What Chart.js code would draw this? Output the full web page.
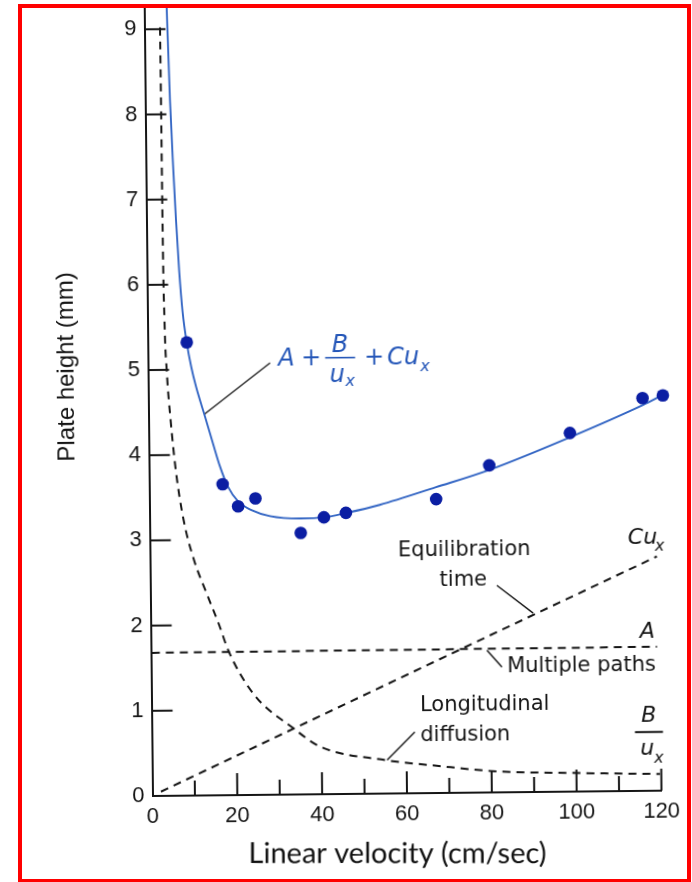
<!DOCTYPE html>
<html lang="en">
<head>
<meta charset="UTF-8">
<title>Plate height vs linear velocity</title>
<script src="https://cdn.jsdelivr.net/npm/chart.js"></script>
<style>
  html, body { margin: 0; padding: 0; background: #fff; }
  body { width: 692px; height: 882px; position: relative; overflow: hidden; }
  /* the scanned figure sits slightly tilted on the slide */
  #wrap { position: absolute; left: 0; top: 0; width: 692px; height: 882px;
          transform: rotate(-0.6deg); transform-origin: 152.5px 796px; }
  #frame { position: absolute; left: 18px; top: 4px; width: 673px; height: 879px;
           box-sizing: border-box; border: 4px solid #ff0000; pointer-events: none; }
</style>
</head>
<body>
<div id="wrap"><canvas id="chart" width="692" height="882"></canvas></div>
<div id="frame"></div>
<script>
// axis ticks
const xTickValues = [0, 20, 40, 60, 80, 100, 120];
const xMinorTickValues = [10, 30, 50, 70, 90, 110];
const yTickValues = [0, 1, 2, 3, 4, 5, 6, 7, 8, 9];

// measured points (cm/sec, mm)
const measuredVelocity = [9.2, 17.3, 20.9, 25.0, 35.6, 41.1, 46.3, 67.6, 80.2, 99.3, 116.5, 121.3];
const measuredHeight = [5.32, 3.65, 3.39, 3.48, 3.07, 3.25, 3.30, 3.45, 3.84, 4.21, 4.61, 4.64];

// A + B/u + Cu curve
const fitVelocity = [5.29, 5.84, 6.45, 6.96, 7.6, 8.29, 9.18, 10.2, 11.27, 13.3, 15.13, 16.72, 18.56, 20.88, 24.16, 28.39, 35.45, 41.1, 46.5, 54.3, 67.6, 80.1, 99.3, 116.6, 121.1];
const fitHeight = [9.25, 8.17, 7.35, 6.76, 6.15, 5.68, 5.32, 5.03, 4.8, 4.45, 4.13, 3.86, 3.62, 3.45, 3.34, 3.27, 3.24, 3.25, 3.30, 3.39, 3.59, 3.785, 4.16, 4.53, 4.64];

// B/u term (longitudinal diffusion)
const diffVelocity = [3.67, 3.72, 3.78, 4.0, 4.4, 5.2, 6.3, 8.0, 10.37, 13.23, 16.21, 18.22, 24.0, 33.4, 39.6, 54.9, 67.1, 80.3, 100.8, 119.7];
const diffHeight = [9.02, 8.17, 6.76, 5.59, 5.0, 4.41, 3.82, 3.24, 2.765, 2.376, 1.99, 1.70, 1.19, 0.777, 0.56, 0.394, 0.32, 0.25, 0.217, 0.196];

// A term (multiple paths)
const pathsVelocity = [0.2, 119.3];
const pathsHeight = [1.68, 1.69];

// Cu term (equilibration time)
const equilVelocity = [2, 72.8, 119.5];
const equilHeight = [0.05, 1.68, 2.75];

const toXY = (xs, ys) => xs.map((v, i) => ({ x: v, y: ys[i] }));

const INK = '#151515';
const BLUE_TXT = '#2456b8';
const LABEL_FONT = '21px "DejaVu Sans"';
const MATH_FONT = 'italic 24px "DejaVu Sans"';
const MATH_PLUS = '24px "DejaVu Sans"';
const SUB_FONT = 'italic 16px "DejaVu Sans"';
const TERM_FONT = 'italic 22px "DejaVu Sans"';
const TILT = 0.6 * Math.PI / 180;

function put(ctx, s, x, y, font, color, align) {
  ctx.font = font;
  ctx.fillStyle = color;
  ctx.textAlign = align || 'left';
  ctx.textBaseline = 'alphabetic';
  ctx.fillText(s, x, y);
}

function seg(ctx, x1, y1, x2, y2) {
  ctx.beginPath();
  ctx.moveTo(x1, y1);
  ctx.lineTo(x2, y2);
  ctx.stroke();
}

const figureDecor = {
  id: 'figureDecor',
  afterDraw(chart) {
    const { ctx, chartArea, scales: { x, y } } = chart;
    const px = v => x.getPixelForValue(v);
    const py = v => y.getPixelForValue(v);
    ctx.save();

    // inward tick marks
    ctx.strokeStyle = INK;
    ctx.lineWidth = 2;
    const base = py(0);
    xTickValues.filter(v => v > 0).forEach(v => seg(ctx, px(v), base, px(v), base - 22));
    xMinorTickValues.forEach(v => seg(ctx, px(v), base, px(v), base - 15));
    const left = px(0);
    yTickValues.filter(v => v > 0).forEach(v => seg(ctx, left, py(v), left + 21, py(v)));

    // leader lines
    ctx.lineWidth = 1.4;
    ctx.strokeStyle = '#3a3a3a';
    seg(ctx, px(13.3), py(4.48), px(28.8), py(5.07));
    ctx.strokeStyle = INK;
    seg(ctx, px(81.7), py(2.43), px(90.2), py(2.10));
    seg(ctx, px(79.2), py(1.67), px(82.7), py(1.47));
    seg(ctx, px(55.4), py(0.394), px(62.0), py(0.72));

    // text labels
    put(ctx, 'Equilibration', px(74.1), py(2.78), LABEL_FONT, INK, 'center');
    put(ctx, 'time', px(73.8), py(2.43), LABEL_FONT, INK, 'center');
    put(ctx, 'Multiple paths', px(83.9), py(1.41), LABEL_FONT, INK);
    put(ctx, 'Longitudinal', px(63.3), py(0.965), LABEL_FONT, INK);
    put(ctx, 'diffusion', px(63.3), py(0.61), LABEL_FONT, INK);

    // A + B/u + Cu
    let ax = px(30.7), ay = py(5.04);
    put(ctx, 'A', ax, ay, MATH_FONT, BLUE_TXT);
    put(ctx, '+', ax + 23, ay, MATH_PLUS, BLUE_TXT);
    ctx.strokeStyle = BLUE_TXT;
    ctx.lineWidth = 1.6;
    seg(ctx, ax + 47, ay - 7, ax + 77, ay - 7);
    put(ctx, 'B', ax + 62, ay - 13, MATH_FONT, BLUE_TXT, 'center');
    put(ctx, 'u', ax + 59, ay + 17, MATH_FONT, BLUE_TXT, 'center');
    put(ctx, 'x', ax + 67, ay + 21, SUB_FONT, BLUE_TXT);
    put(ctx, '+', ax + 86, ay, MATH_PLUS, BLUE_TXT);
    put(ctx, 'Cu', ax + 109, ay, MATH_FONT, BLUE_TXT);
    put(ctx, 'x', ax + 142, ay + 7, SUB_FONT, BLUE_TXT);

    // term labels on the right
    ax = px(112.7); ay = py(2.90);
    put(ctx, 'Cu', ax, ay, TERM_FONT, INK);
    put(ctx, 'x', ax + 27, ay + 7, SUB_FONT, INK);
    put(ctx, 'A', px(115.3), py(1.795), TERM_FONT, INK);
    ax = px(117.2); ay = py(0.69);
    ctx.strokeStyle = INK;
    ctx.lineWidth = 2;
    seg(ctx, ax - 14, ay, ax + 14, ay);
    put(ctx, 'B', ax, ay - 10, TERM_FONT, INK, 'center');
    put(ctx, 'u', ax - 2, ay + 23, TERM_FONT, INK, 'center');
    put(ctx, 'x', ax + 5, ay + 31, SUB_FONT, INK);

    // axis titles
    ctx.save();
    ctx.translate(chartArea.left - 81, chartArea.top + 358);
    ctx.rotate(-Math.PI / 2);
    ctx.font = '24px "Liberation Sans"';
    ctx.fillStyle = INK;
    ctx.textAlign = 'center';
    ctx.textBaseline = 'middle';
    ctx.fillText('Plate height (mm)', 0, 0);
    ctx.restore();

    ctx.save();
    ctx.translate(chartArea.left + 244.3, chartArea.bottom + 69.6);
    ctx.rotate(TILT);
    put(ctx, 'Linear velocity (cm/sec)', 0, 0, '29px Lato', '#111', 'center');
    ctx.restore();

    ctx.restore();
  }
};

const dashed = {
  showLine: true, borderColor: INK, borderWidth: 2, borderDash: [8, 6],
  pointRadius: 0, fill: false, tension: 0, order: 2
};

new Chart(document.getElementById('chart'), {
  type: 'scatter',
  data: {
    datasets: [
      {
        label: 'Measured',
        data: toXY(measuredVelocity, measuredHeight),
        pointRadius: 6.3, pointBackgroundColor: '#0b1ea3', pointBorderWidth: 0,
        clip: false, order: 0
      },
      {
        label: 'A + B/u + Cu',
        data: toXY(fitVelocity, fitHeight),
        showLine: true, borderColor: '#3466c4', borderWidth: 1.9,
        pointRadius: 0, cubicInterpolationMode: 'monotone', clip: false, order: 1
      },
      Object.assign({ label: 'B/u', data: toXY(diffVelocity, diffHeight), cubicInterpolationMode: 'monotone' }, dashed),
      Object.assign({ label: 'A', data: toXY(pathsVelocity, pathsHeight) }, dashed),
      Object.assign({ label: 'Cu', data: toXY(equilVelocity, equilHeight) }, dashed)
    ]
  },
  options: {
    responsive: false,
    animation: false,
    devicePixelRatio: 1,
    layout: { padding: { left: 0, right: 30.5, top: 8, bottom: 0 } },
    plugins: { legend: { display: false }, tooltip: { enabled: false } },
    scales: {
      x: {
        type: 'linear', min: 0, max: 120,
        afterBuildTicks: s => { s.ticks = xTickValues.map(v => ({ value: v })); },
        afterFit: s => { s.height = 86; s.paddingLeft = 0; s.paddingRight = 0; },
        grid: { drawOnChartArea: false, drawTicks: false },
        border: { display: true, color: INK, width: 2 },
        ticks: { color: INK, padding: 8, maxRotation: 0, autoSkip: false,
                 font: { family: 'Liberation Sans', size: 22 } }
      },
      y: {
        type: 'linear', min: 0, max: 9.25,
        afterBuildTicks: s => { s.ticks = yTickValues.map(v => ({ value: v })); },
        afterFit: s => { s.width = 152.5; s.paddingTop = 0; s.paddingBottom = 0; },
        grid: { drawOnChartArea: false, drawTicks: false },
        border: { display: true, color: INK, width: 2 },
        ticks: { color: INK, padding: 8, autoSkip: false,
                 font: { family: 'Liberation Sans', size: 22 } }
      }
    }
  },
  plugins: [figureDecor]
});
</script>
</body>
</html>
